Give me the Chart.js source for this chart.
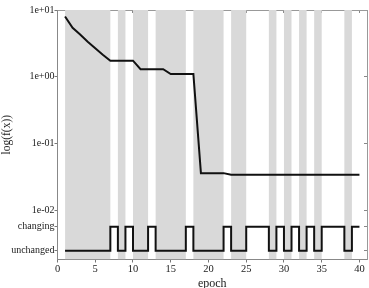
<!DOCTYPE html>
<html>
<head>
<meta charset="utf-8">
<script src="https://cdn.jsdelivr.net/npm/chart.js@4"></script>
<style>
html,body{margin:0;padding:0;background:#fff;}
canvas{display:block;}
</style>
</head>
<body>
<canvas id="c" width="369" height="288"></canvas>
<script>
// ---- data ----
const epochs = [1,2,3,4,5,6,7,8,9,10,11,12,13,14,15,16,17,18,19,20,
                21,22,23,24,25,26,27,28,29,30,31,32,33,34,35,36,37,38,39,40];
const fValues = [8.0,5.4,4.3,3.35,2.67,2.14,1.74,1.74,1.74,1.74,
                 1.30,1.30,1.30,1.30,1.10,1.10,1.10,1.10,0.036,0.036,
                 0.036,0.036,0.034,0.034,0.034,0.034,0.034,0.034,0.034,0.034,
                 0.034,0.034,0.034,0.034,0.034,0.034,0.034,0.034,0.034,0.034];
// status of the interval that starts at each epoch
const status = ['unchanged','unchanged','unchanged','unchanged','unchanged','unchanged','changing','unchanged','changing','unchanged',
                'unchanged','changing','unchanged','unchanged','unchanged','unchanged','changing','unchanged','unchanged','unchanged',
                'unchanged','changing','unchanged','unchanged','changing','changing','changing','unchanged','changing','unchanged',
                'changing','unchanged','changing','unchanged','changing','changing','changing','unchanged','changing','changing'];
const yTickValues = [10, 1, 0.1, 0.01, 0.00568, 0.00248];
const yTickLabels = ['1e+01','1e+00','1e-01','1e-02','changing','unchanged'];
const xTickValues = [0,5,10,15,20,25,30,35,40];
const yRange = [0.00183, 10];
const xRange = [0, 41];

const statusLevel = {changing: yTickValues[4], unchanged: yTickValues[5]};

Chart.defaults.font.family = "'Liberation Serif','Times New Roman',serif";

const setX = s => { s.ticks = xTickValues.map(v => ({value: v})); };
const setY = s => { s.ticks = yTickValues.map(v => ({value: v})); };

new Chart(document.getElementById('c'), {
  type: 'line',
  data: {
    datasets: [
      {
        label: 'f',
        data: epochs.map((e, i) => ({x: e, y: fValues[i]})),
        borderColor: '#111', borderWidth: 2, pointRadius: 0, tension: 0,
        order: 1
      },
      {
        label: 'status',
        data: epochs.map((e, i) => ({x: e, y: statusLevel[status[i]]})),
        stepped: 'before',
        borderColor: '#111', borderWidth: 2, pointRadius: 0,
        order: 2
      },
      {
        label: 'bands',
        data: epochs.map((e, i) => ({x: e, y: status[i] === 'unchanged' ? yRange[1] : yRange[0]})),
        stepped: 'before',
        borderWidth: 0, borderColor: 'rgba(0,0,0,0)',
        backgroundColor: '#d9d9d9',
        fill: 'start', pointRadius: 0,
        order: 3
      }
    ]
  },
  options: {
    responsive: false,
    animation: false,
    layout: {padding: {left: 0, top: 10, right: 2, bottom: 0}},
    plugins: {legend: {display: false}, tooltip: {enabled: false}},
    scales: {
      x: {
        type: 'linear', position: 'bottom', min: xRange[0], max: xRange[1],
        afterBuildTicks: setX,
        ticks: {font: {size: 10.5}, color: '#222', padding: 0, maxRotation: 0, autoSkip: false},
        grid: {drawOnChartArea: false, tickLength: 3, tickColor: '#777'},
        border: {color: '#888', width: 1},
        title: {display: true, text: 'epoch', font: {size: 12}, color: '#222', padding: {top: 0, bottom: -3.5}},
        afterFit: s => { s.height = 28.5; }
      },
      x2: {
        type: 'linear', position: 'top', min: xRange[0], max: xRange[1],
        afterBuildTicks: setX,
        ticks: {display: false},
        grid: {drawOnChartArea: false, tickLength: -3, tickColor: '#888'},
        border: {color: '#999', width: 1},
        afterFit: s => { s.height = 0; }
      },
      y: {
        type: 'logarithmic', position: 'left', min: yRange[0], max: yRange[1],
        afterBuildTicks: setY,
        ticks: {font: {size: 10}, color: '#222', padding: 0, autoSkip: false,
                callback: (v, i) => yTickLabels[i]},
        grid: {drawOnChartArea: false, tickLength: 3, tickColor: '#777'},
        border: {color: '#888', width: 1},
        title: {display: true, text: 'log(f(x))', font: {size: 11.5}, color: '#222', padding: {top: 0, bottom: 0}},
        afterFit: s => { s.width = 57.5; }
      },
      y2: {
        type: 'logarithmic', position: 'right', min: yRange[0], max: yRange[1],
        afterBuildTicks: setY,
        ticks: {display: false},
        grid: {drawOnChartArea: false, tickLength: -3, tickColor: '#888'},
        border: {color: '#999', width: 1},
        afterFit: s => { s.width = 0; }
      }
    }
  }
});
</script>
</body>
</html>
